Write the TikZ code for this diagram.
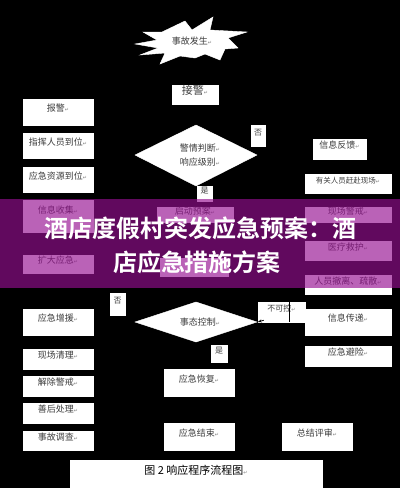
\documentclass[tikz,border=0pt]{standalone}
\usepackage{fontspec}
\setmainfont{Noto Sans CJK SC}
\newfontfamily\cjkb{Noto Sans CJK SC Bold}
\newfontfamily\djv{DejaVu Sans}
\usetikzlibrary{fit,arrows.meta}
\definecolor{bandc}{RGB}{150,15,145}
\definecolor{txt}{RGB}{60,60,60}
\newcommand\pmk{{\djv\fontsize{5}{5}\selectfont\textcolor{gray}{↵}}}
\tikzset{
  bx/.style={draw=white, fill=white, inner sep=0pt, font=\fontsize{9}{11}\selectfont, text=txt},
  lbl/.style={bx, font=\fontsize{8}{9}\selectfont},
  shp/.style={fill=white, draw=white},
  ttl/.style={text=white, font=\cjkb\fontsize{24}{26}\selectfont, inner sep=0pt},
}
\begin{document}
\begin{tikzpicture}[x=1pt,y=-1pt]
\fill[black] (0,0) rectangle (400,488);
\useasboundingbox (0,0) rectangle (400,488);
% starburst
\path[shp] (135,44) -- (157,40) -- (143,32) -- (162,32) -- (185,21) -- (192,30) -- (213,17) -- (210,30) -- (247,32) -- (228,38) -- (238,48) -- (225,49) -- (220,60) -- (205,54) -- (195,58) -- (180,56) -- (160,64) -- (165,53) -- (140,55) -- (158,48) -- cycle;
\node[text=txt, font=\fontsize{9}{11}\selectfont, inner sep=0pt] (start) at (192,41) {事故发生\pmk};
% centre column
\node[bx, font=\fontsize{11}{12}\selectfont, fit={(172,85)(218,104)}] (jj) {接警\pmk};
\path[shp] (135,155) -- (196,125) -- (257,155) -- (196,186) -- cycle;
\node[text=txt, font=\fontsize{9}{14}\selectfont, align=center, inner sep=0pt] (d1) at (200,155) {警情判断\pmk\\响应级别\pmk};
\node[lbl, fit={(251,125)(265,146)}] (no1) {否};
\node[lbl, fit={(197,186)(212,201)}] (yes1) {是};
\node[bx, fit={(157,207)(233,222)}] (qd) {启动预案\pmk};
\node[bx, fit={(160,258)(228,276)}] (jy) {};
\path[shp] (135,322) -- (196,302) -- (257,322) -- (196,342) -- cycle;
\node[text=txt, font=\fontsize{9}{11}\selectfont, inner sep=0pt] (d2) at (200,322) {事态控制\pmk};
\node[lbl, fit={(110,293)(125,315)}] (no2) {否};
\node[lbl, fit={(258,302)(305,322)}] (bkk) {不可控\pmk};
\node[lbl, fit={(211,345)(227,362)}] (yes2) {是};
\node[bx, fit={(164,369)(234,396)}] (hf) {应急恢复\pmk};
\node[bx, fit={(164,423)(234,450)}] (js) {应急结束\pmk};
\node[bx, fit={(282,423)(352,450)}] (zj) {总结评审\pmk};
% left column
\node[bx, fit={(23,99)(93,125)}] (bj) {报警\pmk};
\node[bx, fit={(23,133)(93,158)}] (zh) {指挥人员到位\pmk};
\node[bx, fit={(23,167)(93,192)}] (zy) {应急资源到位\pmk};
\node[bx, fit={(23,200)(93,232)}] (xx) {};
\node[text=txt, font=\fontsize{9}{11}\selectfont, inner sep=0pt] at (58,210) {信息收集\pmk};
\node[bx, fit={(23,255)(93,273)}] (kd) {扩大应急\pmk};
\node[bx, fit={(23,309)(93,335)}] (zyz) {应急增援\pmk};
\node[bx, fit={(23,349)(93,369)}] (ql) {现场清理\pmk};
\node[bx, fit={(23,376)(93,396)}] (jc) {解除警戒\pmk};
\node[bx, fit={(23,403)(93,423)}] (sh) {善后处理\pmk};
\node[bx, fit={(23,431)(93,450)}] (dc) {事故调查\pmk};
% right column
\node[bx, fit={(313,139)(366,159)}] (fk) {信息反馈\pmk};
\node[bx, font=\fontsize{7.5}{9}\selectfont, fit={(305,174)(391,193)}] (gf) {有关人员赶赴现场\pmk};
\node[bx, fit={(305,207)(391,222)}] (jx) {现场警戒\pmk};
\node[bx, fit={(305,241)(391,260)}] (yl) {医疗救护\pmk};
\node[bx, fit={(305,275)(391,294)}] (cl) {人员撤离、疏散\pmk};
\node[bx, fit={(305,309)(391,335)}] (cd) {信息传递\pmk};
\node[bx, fit={(305,346)(391,366)}] (bx2) {应急避险\pmk};
% caption
\node[bx, font=\fontsize{11}{12}\selectfont, text=black, fit={(70,460)(322,489)}] (cap) {图 2 响应程序流程图\pmk};
% visible connector pieces
\coordinate (c1) at (289,300);
\draw[black, line width=0.8pt] (c1) -- (bkk.south -| c1);
\draw[black, line width=0.8pt, -{Stealth[length=4pt]}] (bkk.south west) ++(6,-2) -- (d2.east -| bkk.west);
% overlay band
\fill[bandc, opacity=0.65] (0,199) rectangle (400,288);
% title
\node[ttl] (t1) at (201,228) {酒店度假村突发应急预案：酒};
\node[ttl] (t2) at (197,262) {店应急措施方案};
\end{tikzpicture}
\end{document}
